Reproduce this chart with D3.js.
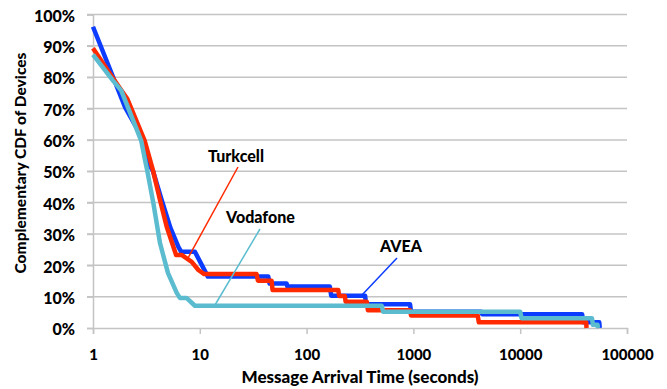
<!DOCTYPE html>
<html><head><meta charset="utf-8">
<script src="https://cdn.jsdelivr.net/npm/d3@7"></script>
<style>body{margin:0;background:#fff;} text{font-family:Lato, "Open Sans", sans-serif;font-weight:bold;fill:#000;}</style>
</head><body>
<svg id="c" width="667" height="389"></svg>
<script>
// time (seconds), complementary CDF (%)
const aveaT = [1,2.0,3.0,3.18,3.65,4.4,5.3,6.3,6.7,9.0,11.9,43.8,45,65,66,165,170,353,360,930,950,4300,4400,38000,39000,55000,55500];
const aveaP = [96.1,70.4,59.7,53.6,50,40.8,32,25.9,24.3,24.3,16.4,16.4,14.2,14.2,13.2,13.2,10.3,10.3,7.6,7.6,5.2,5.2,4.4,4.4,1.8,1.8,0];
const turkT = [1,1.54,2.1,3.05,3.65,4.24,4.9,6.0,6.76,8.4,9.7,11.0,34,35,47,48,198,202,228,232,366,375,930,950,4000,4100,41500,41800];
const turkP = [89.2,79.7,73.0,59.7,50.2,40.8,32.3,23.3,23.3,21.1,18.5,17.2,17.2,15.1,15.1,12.1,12.1,10.2,10.2,8.4,8.4,5.7,5.7,4.0,4.0,1.8,1.8,0];
const vodaT = [1,1.54,1.84,2.83,3.07,3.22,3.67,4.24,5.04,6.08,6.5,7.5,9.0,505,520,10000,10300,47000,48000,53000,53500];
const vodaP = [87.2,78.9,75.7,59.7,53.6,50.2,39.9,27.1,17.5,11.2,9.6,9.6,7.1,7.1,5.2,5.2,3.1,3.1,1.0,1.0,0];
const seriesNames = ["AVEA","Turkcell","Vodafone"];
const xTicks = [1,10,100,1000,10000,100000];
const yTicks = [0,10,20,30,40,50,60,70,80,90,100];

const svg = d3.select("#c");
const x = d3.scaleLog().domain([1,100000]).range([93,627]);
const y = d3.scaleLinear().domain([0,100]).range([328,14.5]);
const grid = "#c4c4c4";

// gridlines
svg.append("g").selectAll("line").data(yTicks.filter(d=>d>0)).join("line")
  .attr("x1",87).attr("x2",627).attr("y1",d=>y(d)).attr("y2",d=>y(d))
  .attr("stroke",grid).attr("stroke-width",1.5);
// y axis
const ya = svg.append("g").attr("transform","translate(93,0)")
  .call(d3.axisLeft(y).tickValues(yTicks).tickSize(6).tickPadding(12).tickFormat(d=>d+"%"));
ya.select(".domain").attr("stroke",grid).attr("stroke-width",1.5);
ya.selectAll(".tick line").attr("stroke",grid).attr("stroke-width",1.5);
ya.selectAll("text").style("font-size","16px").style("font-weight","900").attr("dy","0.42em");
// x axis
const xa = svg.append("g").attr("transform","translate(0,328)")
  .call(d3.axisBottom(x).tickValues(xTicks).tickSize(6).tickPadding(15).tickFormat(d3.format("d")));
xa.select(".domain").attr("stroke",grid).attr("stroke-width",1.5);
xa.selectAll(".tick line").attr("stroke",grid).attr("stroke-width",1.5);
xa.selectAll("text").style("font-size","15px").style("font-weight","900");

const line = d3.line().x(d=>x(d[0])).y(d=>y(d[1]));
const series = [
  {T:aveaT,P:aveaP,c:"#0b3cff"},
  {T:turkT,P:turkP,c:"#ff2a00"},
  {T:vodaT,P:vodaP,c:"#5bbccf"}
];
series.forEach(s=>{
  svg.append("path").datum(s.T.map((t,i)=>[t,s.P[i]]))
    .attr("d",line).attr("fill","none").attr("stroke",s.c)
    .attr("stroke-width",4.5).attr("stroke-linejoin","round");
});

// labels with leader lines
const labs = [
  {name:seriesNames[1],tx:208,ty:162,x1:238,y1:167,x2:188,y2:258,c:"#ff2a00"},
  {name:seriesNames[2],tx:226,ty:223,x1:260,y1:229,x2:215,y2:305,c:"#5bbccf"},
  {name:seriesNames[0],tx:380,ty:252,x1:397,y1:258,x2:362,y2:295,c:"#0b3cff"}
];
labs.forEach(l=>{
  svg.append("line").attr("x1",l.x1).attr("y1",l.y1).attr("x2",l.x2).attr("y2",l.y2)
    .attr("stroke",l.c).attr("stroke-width",1.5);
  svg.append("text").attr("x",l.tx).attr("y",l.ty).style("font-size","16px").style("font-weight","900").text(l.name);
});

svg.append("text").attr("x",360).attr("y",383).attr("text-anchor","middle")
  .style("font-size","17px").style("font-weight","900").text("Message Arrival Time (seconds)");
svg.append("text").attr("transform","translate(26,163) rotate(-90)").attr("text-anchor","middle")
  .style("font-size","15.5px").style("font-weight","900").text("Complementary CDF of Devices");
</script>
</body></html>
